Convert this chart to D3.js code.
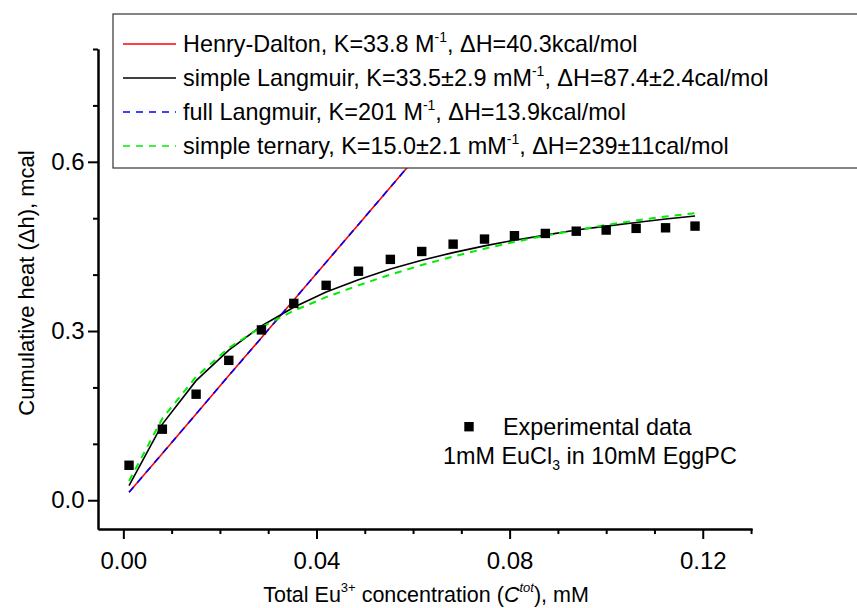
<!DOCTYPE html>
<html>
<head>
<meta charset="utf-8">
<script src="https://cdn.jsdelivr.net/npm/d3@7"></script>
<style>
  body { margin: 0; background: #fff; }
  svg { display: block; font-family: "Liberation Sans", Arial, sans-serif; }
</style>
</head>
<body>
<svg id="chart" width="857" height="608"></svg>
<script>
// total Eu3+ concentration, mM
const conc = [0.00118, 0.00808, 0.01507, 0.02184, 0.0286, 0.0353, 0.0420, 0.0487, 0.0553, 0.0618,
  0.0683, 0.0748, 0.0810, 0.0874, 0.0938, 0.1000, 0.1062, 0.1123, 0.1184]
// cumulative heat, mcal
const heatExp = [0.062, 0.126, 0.188, 0.248, 0.302, 0.349, 0.381, 0.406, 0.427, 0.441,
  0.454, 0.463, 0.469, 0.473, 0.477, 0.479, 0.482, 0.483, 0.486]
const fitHenry = [0.014, 0.083, 0.153, 0.221, 0.288, 0.355, 0.422, 0.489, 0.555, 0.620,
  0.685, 0.750, 0.812, 0.876, 0.940, 1.002, 1.063, 1.124, 1.185]
const fitSimpleLangmuir = [0.026, 0.135, 0.212, 0.266, 0.309, 0.342, 0.369, 0.391, 0.410, 0.4255,
  0.439, 0.451, 0.461, 0.470, 0.479, 0.486, 0.4925, 0.4985, 0.504]
const fitFullLangmuir = [0.014, 0.083, 0.153, 0.221, 0.288, 0.355, 0.422, 0.489, 0.555, 0.620,
  0.685, 0.750, 0.812, 0.876, 0.940, 1.002, 1.063, 1.124, 1.185]
const fitTernary = [0.034, 0.145, 0.219, 0.270, 0.307, 0.336, 0.360, 0.381, 0.400, 0.417,
  0.432, 0.446, 0.458, 0.469, 0.479, 0.488, 0.496, 0.503, 0.509]

const xMajor = [0, 0.04, 0.08, 0.12]
const xMinor = [0.01, 0.02, 0.03, 0.05, 0.06, 0.07, 0.09, 0.10, 0.11, 0.13]
const yMajor = [0, 0.3, 0.6]
const yMinor = [0.1, 0.2, 0.4, 0.5, 0.7, 0.8]

const legendRows = [
  {color: "#ff0000", dash: null, parts: [["Henry-Dalton, K=33.8 M"], ["-1", 1], [", \u0394H=40.3kcal/mol"]]},
  {color: "#000000", dash: null, parts: [["simple Langmuir, K=33.5\u00b12.9 mM"], ["-1", 1], [", \u0394H=87.4\u00b12.4cal/mol"]]},
  {color: "#0000ff", dash: "7,6", parts: [["full Langmuir, K=201 M"], ["-1", 1], [", \u0394H=13.9kcal/mol"]]},
  {color: "#00ee00", dash: "7,6", parts: [["simple ternary, K=15.0\u00b12.1 mM"], ["-1", 1], [", \u0394H=239\u00b111cal/mol"]]}
]

const svg = d3.select("#chart")
const x = d3.scaleLinear().domain([-0.00525, 0.1302]).range([98, 752])
const y = d3.scaleLinear().domain([-0.051, 0.8]).range([529, 49])

svg.append("clipPath").attr("id", "plotclip")
  .append("rect").attr("x", 98).attr("y", 49).attr("width", 654).attr("height", 480)

function drawFit(vals, color, dash, width) {
  let line = d3.line().x((d, i) => x(conc[i])).y(d => y(d))
  svg.append("path")
    .attr("clip-path", "url(#plotclip)")
    .attr("d", line(vals))
    .attr("fill", "none")
    .attr("stroke", color)
    .attr("stroke-width", width)
    .attr("stroke-dasharray", dash)
}

drawFit(fitHenry, "#ff0000", null, 1.6)
drawFit(fitSimpleLangmuir, "#000000", null, 1.6)
drawFit(fitFullLangmuir, "#0000ff", "7,6", 1.6)
drawFit(fitTernary, "#00ee00", "7,6", 2)

svg.append("g").selectAll("rect")
  .data(heatExp).enter()
  .append("rect")
  .attr("x", (d, i) => x(conc[i]) - 4.7)
  .attr("y", d => y(d) - 4.7)
  .attr("width", 9.4)
  .attr("height", 9.4)
  .attr("fill", "#000")

// axes
const fmtX = d3.format(".2f"), fmtY = d3.format(".1f")
let gx = svg.append("g").attr("transform", "translate(0,529)")
  .call(d3.axisBottom(x).tickValues(xMajor).tickSize(10).tickSizeOuter(0).tickFormat(fmtX))
let gxm = svg.append("g").attr("transform", "translate(0,529)")
  .call(d3.axisBottom(x).tickValues(xMinor).tickSize(5).tickSizeOuter(0).tickFormat(""))
let gy = svg.append("g").attr("transform", "translate(98,0)")
  .call(d3.axisLeft(y).tickValues(yMajor).tickSize(10).tickSizeOuter(0).tickFormat(fmtY))
let gym = svg.append("g").attr("transform", "translate(98,0)")
  .call(d3.axisLeft(y).tickValues(yMinor).tickSize(5).tickSizeOuter(0).tickFormat(""))

;[gx, gxm, gy, gym].forEach(g => {
  g.selectAll("path, line").attr("stroke", "#000").attr("stroke-width", 2)
  g.selectAll("text").attr("fill", "#000").style("font-size", "24px")
    .style("font-family", "'Liberation Sans', Arial, sans-serif")
})
gx.selectAll("text").attr("dy", "1.12em")
gy.selectAll("text").attr("dx", "-0.02em")

// axis titles
let xt = svg.append("text").attr("x", 426).attr("y", 602)
  .attr("text-anchor", "middle").style("font-size", "21.5px")
xt.append("tspan").text("Total Eu")
xt.append("tspan").text("3+").style("font-size", "13px").attr("dy", -10)
xt.append("tspan").text(" concentration (").attr("dy", 10)
xt.append("tspan").text("C").style("font-style", "italic")
xt.append("tspan").text("tot").style("font-size", "13px").style("font-style", "italic").attr("dy", -10)
xt.append("tspan").text("), mM").attr("dy", 10)

svg.append("text")
  .attr("transform", "translate(34,283) rotate(-90)")
  .attr("text-anchor", "middle").style("font-size", "22px")
  .text("Cumulative heat (\u0394h), mcal")

// legend
svg.append("rect").attr("x", 113).attr("y", 14).attr("width", 760).attr("height", 154)
  .attr("fill", "#fff").attr("stroke", "#333").attr("stroke-width", 1.2)

legendRows.forEach((row, i) => {
  let cy = 44 + i * 34
  svg.append("line")
    .attr("x1", 123).attr("x2", 176).attr("y1", cy).attr("y2", cy)
    .attr("stroke", row.color).attr("stroke-width", 1.6)
    .attr("stroke-dasharray", row.dash)
  let t = svg.append("text").attr("x", 183).attr("y", cy + 8).style("font-size", "23.4px")
  let shifted = false
  row.parts.forEach(p => {
    let ts = t.append("tspan").text(p[0])
    if (p[1]) { ts.style("font-size", "14px").attr("dy", -10); shifted = true }
    else if (shifted) { ts.attr("dy", 10); shifted = false }
  })
})

// annotation
svg.append("rect").attr("x", 464.3).attr("y", 422).attr("width", 9.4).attr("height", 9.4).attr("fill", "#000")
svg.append("text").attr("x", 503).attr("y", 435).style("font-size", "23.4px").text("Experimental data")
let ann = svg.append("text").attr("x", 443).attr("y", 464).style("font-size", "23.4px")
ann.append("tspan").text("1mM EuCl")
ann.append("tspan").text("3").style("font-size", "14px").attr("dy", 6)
ann.append("tspan").text(" in 10mM EggPC").attr("dy", -6)
</script>
</body>
</html>
